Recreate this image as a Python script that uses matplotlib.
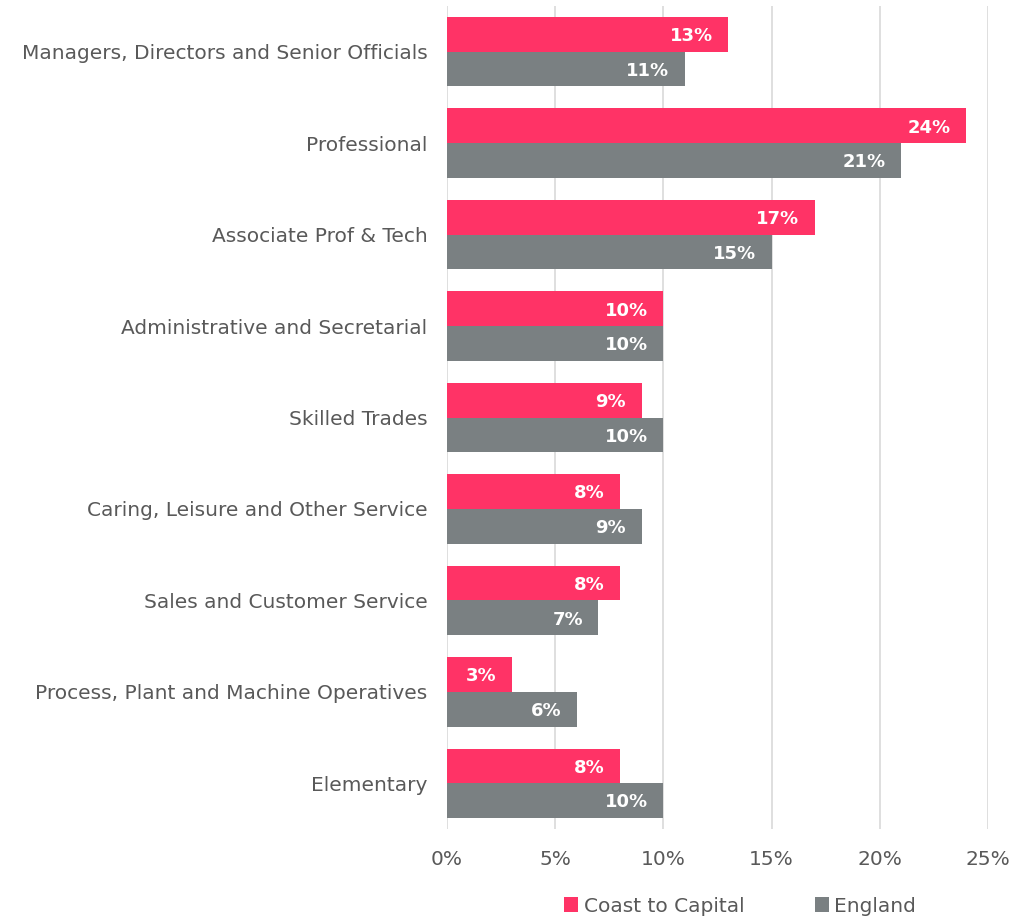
import matplotlib
matplotlib.use("Agg")
import matplotlib.pyplot as plt
import numpy as np

categories = [
    "Managers, Directors and Senior Officials",
    "Professional",
    "Associate Prof & Tech",
    "Administrative and Secretarial",
    "Skilled Trades",
    "Caring, Leisure and Other Service",
    "Sales and Customer Service",
    "Process, Plant and Machine Operatives",
    "Elementary",
]
coast_to_capital = [13, 24, 17, 10, 9, 8, 8, 3, 8]
england = [11, 21, 15, 10, 10, 9, 7, 6, 10]
series_names = ["Coast to Capital", "England"]
x_ticks = [0, 5, 10, 15, 20, 25]

PINK = "#ff3366"
GREY = "#7a8082"
TEXT = "#595959"

plt.rcParams["font.family"] = ["DejaVu Sans"]

fig = plt.figure(figsize=(10.13, 9.19), dpi=100)
ax = fig.add_axes([447 / 1013, 1 - 829 / 919, 541 / 1013, 823 / 919])

n = len(categories)
y = np.arange(n)
h = 0.38

bars1 = ax.barh(y - h / 2, coast_to_capital, height=h, color=PINK, label=series_names[0], zorder=3)
bars2 = ax.barh(y + h / 2, england, height=h, color=GREY, label=series_names[1], zorder=3)

for bars, vals in ((bars1, coast_to_capital), (bars2, england)):
    for b, v in zip(bars, vals):
        ax.text(b.get_width() - 0.72, b.get_y() + b.get_height() / 2 + 0.02, f"{v}%",
                ha="right", va="center", color="white", fontsize=13,
                fontweight="bold", zorder=4)

ax.set_ylim(n - 0.5, -0.5)
ax.set_xlim(0, 25)
ax.set_xticks(x_ticks)
ax.set_xticklabels([f"{t}%" for t in x_ticks])
ax.set_yticks(y)
ax.set_yticklabels(categories)
ax.tick_params(axis="both", length=0, colors=TEXT, labelsize=14.5)
ax.tick_params(axis="y", pad=14)
ax.tick_params(axis="x", pad=15)

ax.grid(axis="x", color="#d9d9d9", linewidth=1.2, zorder=0)
for s in ax.spines.values():
    s.set_visible(False)

fig.legend(handles=[bars1, bars2], labels=series_names, loc="center",
           bbox_to_anchor=(740 / 1013, 1 - 906 / 919), ncol=2, frameon=False,
           fontsize=14.5, labelcolor=TEXT, handlelength=0.7, handleheight=0.7,
           handletextpad=0.25, columnspacing=3.5)

fig.savefig("out.png", dpi=100)
